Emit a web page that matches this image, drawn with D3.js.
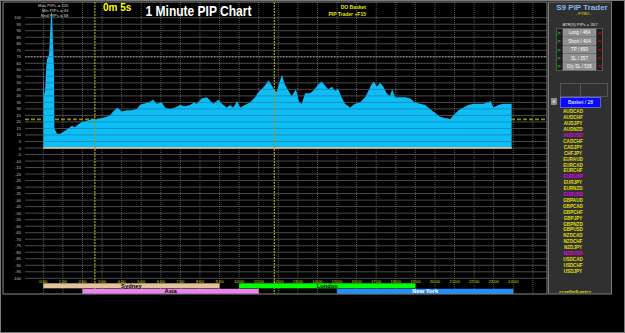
<!DOCTYPE html>
<html>
<head>
<meta charset="utf-8">
<script src="https://cdn.jsdelivr.net/npm/d3@7"></script>
<style>
  html, body { margin: 0; padding: 0; background: #000; overflow: hidden; }
  svg { display: block; font-family: 'Liberation Sans', Arial, sans-serif; }
</style>
</head>
<body>
<div id="chart"></div>
<script>
// pips per minute of the day: [minute, pips]
const pipSeries = [
  [0, 45], [1, 69], [2, 44], [5, 41], [8, 58], [11, 68], [15, 70], [18, 72],
  [20, 84], [23, 98], [25, 105], [27, 103], [29, 86], [31, 72], [33, 60], [34, 15],
  [42, 11], [51, 11], [60, 12], [76, 15], [88, 17], [97, 16], [106, 18], [118, 20],
  [133, 21], [148, 22], [164, 22], [179, 23], [194, 24], [204, 25], [214, 28],
  [227, 31], [240, 28], [256, 29], [271, 29], [286, 30], [296, 33], [306, 34],
  [322, 35], [337, 37], [347, 34], [363, 35], [373, 31], [388, 30], [404, 31],
  [419, 33], [434, 32], [449, 33], [462, 35], [470, 34], [485, 38], [501, 39],
  [521, 34], [536, 37], [547, 34], [562, 31], [572, 33], [582, 31], [594, 36],
  [603, 31], [618, 33], [633, 35], [649, 39], [659, 43], [669, 45], [679, 48],
  [690, 52], [700, 48], [707, 45], [715, 43], [723, 50], [731, 56], [740, 49],
  [751, 44], [761, 40], [774, 45], [784, 35], [792, 34], [802, 42], [817, 42],
  [827, 44], [843, 49], [853, 51], [863, 48], [873, 45], [884, 47], [894, 44],
  [904, 45], [914, 39], [924, 34], [940, 31], [955, 34], [970, 35], [986, 39],
  [996, 44], [1006, 49], [1013, 51], [1022, 47], [1032, 50], [1042, 47], [1052, 42],
  [1062, 40], [1069, 45], [1078, 39], [1093, 39], [1108, 39], [1124, 38], [1139, 35],
  [1155, 34], [1170, 33], [1185, 30], [1200, 27], [1215, 24], [1231, 23], [1246, 22],
  [1256, 25], [1272, 29], [1287, 31], [1302, 33], [1318, 34], [1333, 34], [1348, 34],
  [1360, 35], [1371, 36], [1379, 31], [1394, 33], [1409, 34], [1425, 34], [1435, 34]
];

const yTicks = d3.range(-100, 101, 5);
const hourTicks = d3.range(0, 25);
const gridHours = d3.range(0, 26);
const timeMarkers = [158, 708];     // minutes, yellow dotted lines
const refLevel = 70;                // white dotted level
const avgLevel = 22;                // yellow dashed level

const sessionNames = ['Sydney', 'London', 'Asia', 'New York'];
const sessionStart = [0, 10, 2, 15];
const sessionEnd = [9, 19, 11, 24];

const infoLines = ['Max PIPs = 105', 'Min PIPs = 43', 'End PIPs = 68'];
const basketLines = ['DO Basket', 'PIP Trader +F15'];
const panelButtons = ['Long / 464', 'Short / 404', 'TP / 893', 'SL / 357', 'Dly SL / 536'];
const pairs = ['AUDCAD', 'AUDCHF', 'AUDJPY', 'AUDNZD', 'AUDUSD', 'CADCHF', 'CADJPY',
  'CHFJPY', 'EURAUD', 'EURCAD', 'EURCHF', 'EURGBP', 'EURJPY', 'EURNZD', 'EURUSD',
  'GBPAUD', 'GBPCAD', 'GBPCHF', 'GBPJPY', 'GBPNZD', 'GBPUSD', 'NZDCAD', 'NZDCHF',
  'NZDJPY', 'NZDUSD', 'USDCAD', 'USDCHF', 'USDJPY'];
const flaggedPairs = ['AUDUSD', 'EURGBP', 'EURUSD', 'NZDUSD'];

const W = 625, H = 333;
const frame = { left: 3, right: 547, top: 2, bottom: 294 };
const gridLeft = 25;
const sessionColors = { 'Sydney': '#e3c39c', 'London': '#00ff00', 'Asia': '#ee82ee', 'New York': '#1e90ff' };
const sessionText = { 'Sydney': '#000', 'London': '#000', 'Asia': '#000', 'New York': '#fff' };

const svg = d3.select('#chart')
  .append('svg')
  .attr('width', W)
  .attr('height', H);

svg.append('rect').attr('width', W).attr('height', H).attr('fill', '#000');

const xScale = d3.scaleLinear().domain([0, 24]).range([43.3, 513.3]);
const yScale = d3.scaleLinear().domain([-100, 100]).range([278.3, 17.7]);

// horizontal grid
svg.selectAll('.hgrid')
  .data(yTicks)
  .enter()
  .append('line')
  .attr('class', 'hgrid')
  .attr('x1', gridLeft)
  .attr('x2', frame.right)
  .attr('y1', d => yScale(d))
  .attr('y2', d => yScale(d))
  .attr('stroke', '#4a4a4a');

// vertical grid
svg.selectAll('.vgrid')
  .data(gridHours)
  .enter()
  .append('line')
  .attr('class', 'vgrid')
  .attr('x1', d => xScale(d))
  .attr('x2', d => xScale(d))
  .attr('y1', frame.top)
  .attr('y2', frame.bottom)
  .attr('stroke', '#5a5a5a')
  .attr('stroke-dasharray', '1,1');

// reference levels
svg.append('line')
  .attr('x1', gridLeft).attr('x2', frame.right)
  .attr('y1', yScale(refLevel)).attr('y2', yScale(refLevel))
  .attr('stroke', '#9a9a9a')
  .attr('stroke-dasharray', '1.5,1.5');

svg.append('line')
  .attr('x1', gridLeft).attr('x2', frame.right)
  .attr('y1', yScale(avgLevel)).attr('y2', yScale(avgLevel))
  .attr('stroke', '#8c8c10')
  .attr('stroke-width', 1.6)
  .attr('stroke-dasharray', '4,2');

// pip area
const area = d3.area()
  .x(d => xScale(d[0] / 60))
  .y0(yScale(0))
  .y1(d => yScale(d[1]));

svg.append('path')
  .datum(pipSeries)
  .attr('d', area)
  .attr('fill', '#0cbdf6');

// grid seen through the area
svg.append('clipPath').attr('id', 'areaClip')
  .append('path').datum(pipSeries).attr('d', area);

svg.append('g')
  .attr('clip-path', 'url(#areaClip)')
  .selectAll('line')
  .data(yTicks)
  .enter()
  .append('line')
  .attr('x1', gridLeft)
  .attr('x2', frame.right)
  .attr('y1', d => yScale(d))
  .attr('y2', d => yScale(d))
  .attr('stroke', '#2a5c78')
  .attr('stroke-opacity', 0.45);

// zero line
svg.append('line')
  .attr('x1', xScale(0))
  .attr('x2', xScale(pipSeries[pipSeries.length - 1][0] / 60))
  .attr('y1', yScale(0)).attr('y2', yScale(0))
  .attr('stroke', '#f7caa2')
  .attr('stroke-width', 1.4);

// time markers
svg.selectAll('.marker')
  .data(timeMarkers)
  .enter()
  .append('line')
  .attr('class', 'marker')
  .attr('x1', d => xScale(d / 60))
  .attr('x2', d => xScale(d / 60))
  .attr('y1', frame.top)
  .attr('y2', frame.bottom)
  .attr('stroke', '#9a9a1a')
  .attr('stroke-width', 1.3)
  .attr('stroke-dasharray', '2,1');

// y labels
svg.selectAll('.ylab')
  .data(yTicks)
  .enter()
  .append('text')
  .attr('class', 'ylab')
  .attr('x', 21)
  .attr('y', d => yScale(d) + 1.5)
  .attr('text-anchor', 'end')
  .attr('font-size', 4)
  .attr('fill', '#c8c8c8')
  .text(d => d);

// hour labels
svg.selectAll('.hlab')
  .data(hourTicks)
  .enter()
  .append('text')
  .attr('class', 'hlab')
  .attr('x', d => xScale(d))
  .attr('y', 282.6)
  .attr('text-anchor', 'middle')
  .attr('font-size', 4.2)
  .attr('fill', '#d8d800')
  .text(d => d + ':00');

// sessions
const sessions = sessionNames.map((name, i) => ({ name, start: sessionStart[i], end: sessionEnd[i], row: i < 2 ? 0 : 1 }));
const rowY = [283.3, 288.8];

svg.selectAll('.session')
  .data(sessions)
  .enter()
  .append('rect')
  .attr('class', 'session')
  .attr('x', d => xScale(d.start))
  .attr('width', d => xScale(d.end) - xScale(d.start))
  .attr('y', d => rowY[d.row])
  .attr('height', 5)
  .attr('fill', d => sessionColors[d.name]);

svg.selectAll('.sessionLabel')
  .data(sessions)
  .enter()
  .append('text')
  .attr('class', 'sessionLabel')
  .attr('x', d => xScale((d.start + d.end) / 2))
  .attr('y', d => rowY[d.row] + 4.5)
  .attr('text-anchor', 'middle')
  .attr('font-size', 5.8)
  .attr('font-weight', 'bold')
  .attr('fill', d => sessionText[d.name])
  .text(d => d.name);

// chart titles
svg.selectAll('.info')
  .data(infoLines)
  .enter()
  .append('text')
  .attr('class', 'info')
  .attr('x', 68.5)
  .attr('y', (d, i) => 6.6 + i * 5.2)
  .attr('text-anchor', 'end')
  .attr('font-size', 4.3)
  .attr('fill', '#d0d0d0')
  .text(d => d);

svg.append('text')
  .attr('x', 103).attr('y', 10.5)
  .attr('font-size', 10).attr('font-weight', 'bold')
  .attr('fill', '#ffff00')
  .text('0m 5s');

svg.append('text')
  .attr('x', 145.5).attr('y', 15.5)
  .attr('font-size', 14).attr('font-weight', 'bold')
  .attr('fill', '#fff')
  .attr('textLength', 106).attr('lengthAdjust', 'spacingAndGlyphs')
  .text('1 Minute PIP Chart');

svg.selectAll('.basket')
  .data(basketLines)
  .enter()
  .append('text')
  .attr('class', 'basket')
  .attr('x', 366)
  .attr('y', (d, i) => 9 + i * 6.8)
  .attr('text-anchor', 'end')
  .attr('font-size', 5)
  .attr('font-weight', 'bold')
  .attr('fill', '#e6e600')
  .text(d => d);

// frames
svg.append('rect')
  .attr('x', 0.5).attr('y', 0.5).attr('width', W - 1).attr('height', H - 1)
  .attr('fill', 'none').attr('stroke', '#7a7a7a');

svg.append('rect')
  .attr('x', frame.left).attr('y', frame.top)
  .attr('width', frame.right - frame.left).attr('height', frame.bottom - frame.top)
  .attr('fill', 'none').attr('stroke', '#8a8a8a');

// side panel
const panel = svg.append('g');
const px = 548, pw = 63;

panel.append('rect')
  .attr('x', px + 0.5).attr('y', frame.top)
  .attr('width', pw).attr('height', frame.bottom - frame.top)
  .attr('fill', '#303030').attr('stroke', '#7a7a7a');

panel.append('text')
  .attr('x', 582).attr('y', 9.5)
  .attr('text-anchor', 'middle')
  .attr('font-size', 8).attr('font-weight', 'bold')
  .attr('fill', '#88b4f0')
  .text('S9 PIP Trader');

panel.append('text')
  .attr('x', 584).attr('y', 14.8)
  .attr('text-anchor', 'middle')
  .attr('font-size', 4).attr('fill', '#e0e000')
  .text('- FTMO -');

panel.append('text')
  .attr('x', 580).attr('y', 26.3)
  .attr('text-anchor', 'middle')
  .attr('font-size', 4.2).attr('fill', '#e0e0e0')
  .text('ATR(5) PIPs = 357');

panel.append('rect')
  .attr('x', 556.5).attr('y', 28.5).attr('width', 46).attr('height', 42)
  .attr('fill', '#1c1c1c').attr('stroke', '#555');

const btnY = d3.scaleBand().domain(panelButtons).range([29, 70]).paddingInner(0.12);

panel.selectAll('.btn')
  .data(panelButtons)
  .enter()
  .append('rect')
  .attr('class', 'btn')
  .attr('x', 563).attr('width', 33)
  .attr('y', d => btnY(d)).attr('height', btnY.bandwidth())
  .attr('fill', '#8e8e8e').attr('stroke', '#b0b0b0').attr('stroke-width', 0.5);

panel.selectAll('.btnText')
  .data(panelButtons)
  .enter()
  .append('text')
  .attr('class', 'btnText')
  .attr('x', 579.5)
  .attr('y', d => btnY(d) + btnY.bandwidth() / 2 + 1.6)
  .attr('text-anchor', 'middle')
  .attr('font-size', 4.6).attr('fill', '#fff')
  .text(d => d);

panel.selectAll('.btnL')
  .data(panelButtons)
  .enter()
  .append('text')
  .attr('class', 'btnL')
  .attr('x', 559)
  .attr('y', d => btnY(d) + btnY.bandwidth() / 2 + 2)
  .attr('text-anchor', 'middle')
  .attr('font-size', 6).attr('font-weight', 'bold').attr('fill', '#00d000')
  .text('>');

panel.selectAll('.btnR')
  .data(panelButtons)
  .enter()
  .append('text')
  .attr('class', 'btnR')
  .attr('x', 599.5)
  .attr('y', d => btnY(d) + btnY.bandwidth() / 2 + 2)
  .attr('text-anchor', 'middle')
  .attr('font-size', 6).attr('font-weight', 'bold').attr('fill', '#e00000')
  .text('<');

panel.append('rect')
  .attr('x', 560.5).attr('y', 83.5).attr('width', 20).attr('height', 13)
  .attr('fill', 'none').attr('stroke', '#555');
panel.append('rect')
  .attr('x', 580.5).attr('y', 83.5).attr('width', 27).attr('height', 13)
  .attr('fill', 'none').attr('stroke', '#555');

panel.append('rect')
  .attr('x', 551.5).attr('y', 98.5).attr('width', 5).attr('height', 6)
  .attr('fill', '#8a8a8a').attr('stroke', '#bbb').attr('stroke-width', 0.5);
panel.append('text')
  .attr('x', 554).attr('y', 103.2)
  .attr('text-anchor', 'middle').attr('font-size', 4).attr('fill', '#fff')
  .text('E');

panel.append('rect')
  .attr('x', 560.5).attr('y', 97.5).attr('width', 40).attr('height', 10)
  .attr('fill', '#0a0aff').attr('stroke', '#9090ff').attr('stroke-width', 0.6);
panel.append('text')
  .attr('x', 580.5).attr('y', 104.3)
  .attr('text-anchor', 'middle').attr('font-size', 5).attr('fill', '#fff')
  .text('Basket / 28');

panel.selectAll('.pair')
  .data(pairs)
  .enter()
  .append('text')
  .attr('class', 'pair')
  .attr('x', 573)
  .attr('y', (d, i) => 113.4 + i * 5.9)
  .attr('text-anchor', 'middle')
  .attr('font-size', 4.6).attr('font-weight', 'bold')
  .attr('fill', d => flaggedPairs.includes(d) ? '#e000e0' : '#e0e000')
  .text(d => d);

panel.append('text')
  .attr('x', 575).attr('y', 292.5)
  .attr('text-anchor', 'middle')
  .attr('font-size', 4.4).attr('font-weight', 'bold').attr('fill', '#e0e000')
  .text('>>seller9.net<<');
</script>
</body>
</html>
